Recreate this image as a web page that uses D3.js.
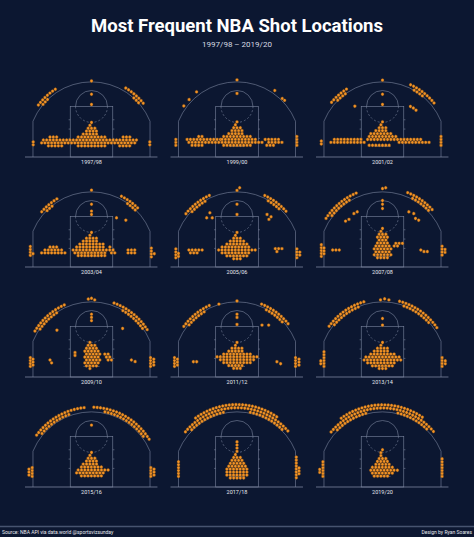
<!DOCTYPE html>
<html>
<head>
<meta charset="utf-8">
<script src="https://cdn.jsdelivr.net/npm/d3@7"></script>
<style>
  body { margin: 0; background: #0c1731; }
  svg { display: block; }
</style>
</head>
<body>
<div id="chart"></div>
<script>
// seasons, one court each (feet: x from centre, y from baseline)
var seasons = ["1997/98","1999/00","2001/02","2003/04","2005/06","2007/08",
               "2009/10","2011/12","2013/14","2015/16","2017/18","2019/20"];

// horizontal runs of bins: [y, x0, x1]
var runs = [
  [[13,0,0],[11.9,-0.6,0.6],[10.8,-1.25,1.25],[9.7,-1.9,1.9],[8.6,-3.1,3.1],[7.5,-5,5],[7.5,-15.6,-12.5],[7.5,11.9,15],
   [6.4,-18.1,16.9],[5.3,-18.75,16.25],[4.2,-16.2,-11.2],[4.2,-5,5],[4.2,10.6,14.4]],
  [[13.2,0,0],[12.1,-0.6,0.6],[11,-1.25,1.25],[9.9,-1.9,1.9],[8.8,-3.1,3.1],[7.7,-5,5],[7.7,-14.4,-13.1],[6.6,-18.75,-6.25],
   [6.6,-5.6,8.1],[6.6,10.6,15.6],[5.5,-18.1,9.4],[5.5,11.9,16.9],[4.4,-16.9,-13.1],[4.4,-5,5],[4.4,11.2,13.7]],
  [[13.2,0,0],[12.1,-0.6,0.6],[11,-1.25,1.25],[9.9,-2.5,1.9],[8.8,-4.4,3.8],[7.7,-5,5.6],[6.6,-5.6,6.9],[6.6,-18.1,-8.1],
   [5.5,-19.4,-6.9],[5.5,6.25,18.1],[6.6,8.1,14.4],[4.4,-5,3.1]],
  [[13,0,0],[11.9,-0.6,0.6],[10.8,-1.9,1.9],[9.7,-3.1,3.1],[8.6,-4.4,4.4],[7.5,-5.6,5.6],[7.5,6.9,8.1],[6.4,-6.9,8.8],
   [5.3,-6.25,5.6],[5.3,7.5,8.8],[4.3,-5,5],[6.4,-17.5,-10.6],[7.5,-15.6,-13.1],[5.3,-18.75,-9.4],[6.4,13.75,16.9],[5.3,13.75,16.9]],
  [[13,0,0],[11.9,-0.6,0.6],[10.8,-1.25,1.25],[9.7,-2.5,2.5],[8.6,-3.8,3.8],[7.5,-5.6,5.6],[6.4,-6.9,6.9],[5.3,-5.6,5.6],
   [4.2,-3.8,3.8],[3.1,-1.25,1.25],[6.4,-18.1,-13.1],[5.3,-17.5,-14.4],[6.9,14.4,16.9],[5.8,15,16.2]],
  [[14.5,0,0],[13.4,-0.6,0.6],[12.3,-1.25,1.25],[11.2,-1.9,1.9],[10.1,-1.25,1.9],[9,-1.9,2.5],[7.9,-2.5,3.1],[6.8,-3.1,3.8],
   [5.7,-2.5,3.1],[4.6,-3.1,3.8],[3.5,-1.9,1.9],[8.9,5,7.5],[7.9,4.4,6.25],[6.4,-18.75,-15.6],[6.4,14.4,14.4],[5.8,15.6,16.9]],
  [[13,-0.6,0.6],[11.9,-1.25,1.25],[10.8,-1.9,1.9],[9.7,-2.5,2.5],[8.6,-1.9,3.1],[7.5,-2.5,2.5],[6.4,-1.9,3.1],[5.3,-2.5,2.5],
   [4.2,-1.9,1.9],[3.2,-0.6,0.6],[9.2,-6.2,-6.2],[8.1,-6.2,-6.2],[8.6,5,6.25],[7.5,5.6,6.9],[6.4,6.25,7.5],
   [6.4,-15.6,-15.6],[5.3,-15,-15],[6.4,15,15],[5.8,16.4,16.4]],
  [[13,0,0],[11.9,-0.6,0.6],[10.8,-1.9,1.9],[9.7,-3.1,3.1],[8.6,-5,5],[7.6,-7.5,7.5],[6.5,-6.25,6.25],[5.4,-5,5],
   [4.3,-3.1,3.1],[3.25,-1.25,1.25],[5.75,-16.4,-15],[5.75,15,15],[5,16.4,16.4]],
  [[13,0,0],[11.9,-0.6,0.6],[10.8,-1.9,1.9],[9.7,-3.1,3.1],[8.6,-4.4,4.4],[7.5,-6.25,6.25],[6.4,-6.9,7.5],[5.3,-5.6,5.6],
   [4.2,-3.8,3.8],[3.2,-1.25,1.25]],
  [[13,0,0],[11.9,-0.6,0.6],[10.8,-1.25,1.25],[9.7,-1.9,1.9],[8.6,-3.1,3.1],[7.5,-3.8,3.8],[6.4,-5,6.25],[5.3,-5.6,5.6],
   [4.2,-3.8,3.8]],
  [[17,0,0],[15.8,0,0],[14.6,0,0],[13.4,0,0],[12.2,-0.6,0.6],[11.1,-1.25,1.25],[10,-1.9,1.9],[8.9,-2.5,2.5],[7.8,-3.1,3.8],
   [6.7,-3.8,4.4],[5.6,-3.8,3.8],[4.5,-3.8,3.8],[3.4,-2.5,2.5]],
  [[14,0,0],[12.9,-0.6,0.6],[11.8,-0.6,0.6],[10.7,-1.25,1.25],[9.6,-1.9,1.9],[8.5,-2.5,3.1],[7.4,-3.8,4.4],[6.3,-4.4,5.6],
   [5.2,-3.8,3.8],[4.1,-3.1,3.1]]
];

// vertical runs (corners): [x, y0, y1]
var cols = [
  [[-21.9,4.6,5.9],[21.9,4.6,5.9]],
  [[-23,4.4,6.6],[22.5,4.4,7.7]],
  [[-23,4.9,6.5],[22,4.4,7.7]],
  [[-23,4.4,7.7],[-22,5,6],[22.5,3.8,7.7],[23.6,5,6]],
  [[-23,3.5,7],[-22,4,6],[22.5,3.5,7],[23.6,4.5,6]],
  [[-23,4,8.5],[-22,5,7.5],[22.4,4.5,8],[23.5,5.5,7]],
  [[-23,4,8],[-22,4.5,7.5],[22.2,4,8],[23.4,4.5,7.5]],
  [[-23.5,4,7.5],[-22.4,4.5,7],[22,4,7.5],[23.3,4.5,7]],
  [[-22,4,10],[-23.2,5,7],[22.4,4,8],[23.6,5,7]],
  [[-23.5,4.5,7.5],[-22.3,4,8],[22.3,4,8],[23.5,4.5,7.5]],
  [[-22,4,10.5],[22.3,3.5,12],[23.3,5,8]],
  [[-22.4,4,10],[-23.6,5.5,7.5],[22.4,4,11]]
];

// arcs around the hoop: [radius, angle0, angle1] (degrees from straight up)
var arcs = [
  [[25,-53,-31],[23.8,-50,-42],[25,31,53],[23.8,42,50]],
  [],
  [[25,-50,-31],[23.8,-45,-35],[25,25,53],[23.8,30,42]],
  [[24.8,-49,-31],[23.6,-45,-38],[24.8,27,47],[23.6,35,45]],
  [[24.7,-51,-24],[23.5,-46,-30],[24.7,25,49],[23.5,30,45]],
  [[25.3,-57,-22],[24.1,-52,-30],[25.3,22,50],[24.1,28,46]],
  [[24.8,-59,-22],[23.6,-55,-32],[24.8,20,60],[23.6,30,55]],
  [[24.7,-54,-24],[23.5,-50,-30],[24.7,22,51],[23.5,28,47]],
  [[24.8,-54,-14],[23.6,-50,-20],[24.8,15,57],[23.6,20,50]],
  [[25.5,-54,-4],[25.5,2,60],[24.3,-50,-20],[24.3,12,55]],
  [[26.5,-36,36],[25.3,-50,51],[24.1,-45,-12],[24.1,12,45]],
  [[26.4,-36,36],[25.2,-50,50],[24,-45,-14],[24,14,45]]
];

// single bins: [x, y]
var pts = [
  [[0,28.6],[0,23.6],[0,19.75]],
  [[0,29],[0,23.9],[-20,19.2],[-18,21.6],[-15.2,24.5],[14.2,25],[17,22],[17.9,21.3]],
  [[0,28.9],[0,23.6],[0,19.75],[-10.4,19.1],[10.5,19],[11.6,18.4],[12.6,17.6]],
  [[0,28.9],[0,23.6],[0,21],[0,19.75],[9.4,18.5],[12.9,17.6]],
  [[1,29.8],[0,28.8],[0,23.6],[0,19.75],[-10.2,20.4],[-11.4,18.5],[-9.3,18.5],[11.3,19.75],[12.8,18.9],[12,17.9]],
  [[0,29.5],[1.2,29.8],[0,25],[0,23.6],[0,22],[-10.75,20.1],[-9.5,20.75],[-13.9,17.25],[-12.6,17.9],
   [9.9,20.75],[11.75,20.1],[12.4,18.25],[13.6,17.6]],
  [[-1.2,29.3],[0,29.6],[1.2,29],[0,23.6],[0,22.4],[0,21.2],[-13,17.6],[11.7,18.25]],
  [[0,28.6],[0,23.6],[0,22.4],[0,19.75],[-6.8,27.4],[9.4,19.5],[11.9,19.5]],
  [[-0.75,29],[0.8,29.4],[2.4,29],[0,22],[0,19.5]],
  [[0,23.25]],
  [],
  []
];

var W = 474, H = 537, hoopY = 4.5, step = 1.25;

var svg = d3.select("#chart").append("svg")
    .attr("width", W).attr("height", H);
svg.append("rect").attr("width", W).attr("height", H).attr("fill", "#0c1731");

svg.append("text").attr("x", W/2).attr("y", 32).attr("text-anchor", "middle")
  .attr("fill", "#fff").attr("font-family", "Roboto").attr("font-weight", "bold")
  .attr("font-size", 18.5).text("Most Frequent NBA Shot Locations");
svg.append("text").attr("x", W/2).attr("y", 47).attr("text-anchor", "middle")
  .attr("fill", "#d8dbe3").attr("font-family", "Roboto").attr("font-size", 8)
  .text("1997/98 \u2013 2019/20");

function bins(i) {
  var out = [];
  runs[i].forEach(function(r) {
    for (var x = r[1]; x <= r[2] + 0.01; x += step) out.push([x, r[0]]);
  });
  cols[i].forEach(function(c) {
    for (var y = c[1]; y <= c[2] + 0.01; y += 1.1) out.push([c[0], y]);
  });
  arcs[i].forEach(function(a) {
    var da = step / a[0] * 180 / Math.PI;
    for (var t = a[1]; t <= a[2] + 0.01; t += da) {
      var rad = t * Math.PI / 180;
      out.push([a[0] * Math.sin(rad), hoopY + a[0] * Math.cos(rad)]);
    }
  });
  return out.concat(pts[i]);
}

function hexPath(r) {
  return d3.range(6).map(function(k) {
    var a = Math.PI / 6 + k * Math.PI / 3;
    return (k ? "L" : "M") + (r * Math.cos(a)).toFixed(2) + "," + (r * Math.sin(a)).toFixed(2);
  }).join("") + "Z";
}

var lineCol = "#7c86a0";

seasons.forEach(function(s, i) {
  var col = i % 3, row = Math.floor(i / 3);
  var cx = 91.5 + col * 145.5, by = 157 + row * 110;
  var x = d3.scaleLinear().domain([-25, 25]).range([cx - 66.5, cx + 66.5]);
  var y = d3.scaleLinear().domain([0, 47]).range([by, by - 125]);
  var k = x(1) - x(0);
  var g = svg.append("g").attr("fill", "none").attr("stroke", lineCol).attr("stroke-width", 0.6);

  g.append("line").attr("x1", x(-25)).attr("x2", x(24.8)).attr("y1", y(0)).attr("y2", y(0))
    .attr("stroke-width", 0.8);
  var ang = Math.asin(22 / 23.75);
  var yc = hoopY + 23.75 * Math.cos(ang);
  g.append("path").attr("d",
    "M" + x(-22) + "," + y(0) + "L" + x(-22) + "," + y(yc) +
    "A" + 23.75 * k + "," + 23.75 * k + " 0 0 1 " + x(22) + "," + y(yc) +
    "L" + x(22) + "," + y(0));
  g.append("rect").attr("x", x(-8)).attr("y", y(19)).attr("width", 16 * k).attr("height", 19 * k);
  g.append("path").attr("d", "M" + x(-6) + "," + y(19) + "A" + 6*k + "," + 6*k + " 0 0 1 " + x(6) + "," + y(19));
  g.append("path").attr("d", "M" + x(-6) + "," + y(19) + "A" + 6*k + "," + 6*k + " 0 0 0 " + x(6) + "," + y(19))
    .attr("stroke-dasharray", "2,2");
  g.append("line").attr("x1", x(-3)).attr("x2", x(3)).attr("y1", y(4)).attr("y2", y(4));
  [7, 10.5, 14].forEach(function(h) {
    g.append("line").attr("x1", x(-8.6)).attr("x2", x(-8)).attr("y1", y(h)).attr("y2", y(h));
    g.append("line").attr("x1", x(8)).attr("x2", x(8.6)).attr("y1", y(h)).attr("y2", y(h));
  });

  svg.append("g").selectAll("path").data(bins(i)).enter().append("path")
    .attr("d", hexPath(1.7))
    .attr("transform", function(d) { return "translate(" + x(d[0]) + "," + y(d[1]) + ")"; })
    .attr("fill", "#f39325").attr("stroke", "#5a3a1a").attr("stroke-width", 0.35);

  svg.append("text").attr("x", cx).attr("y", by + 6.5).attr("text-anchor", "middle")
    .attr("fill", "#e6e8ee").attr("font-family", "Roboto").attr("font-size", 5.5).text(s);
});

svg.append("line").attr("x1", 0).attr("x2", W).attr("y1", 526.5).attr("y2", 526.5)
  .attr("stroke", "#46536f").attr("stroke-width", 1.5);
svg.append("text").attr("x", 2).attr("y", 534).attr("fill", "#e6e8ee")
  .attr("font-family", "Roboto").attr("font-size", 5).text("Source: NBA API via data.world @sportsvizsunday");
svg.append("text").attr("x", 472).attr("y", 534).attr("text-anchor", "end").attr("fill", "#e6e8ee")
  .attr("font-family", "Roboto").attr("font-size", 5).text("Design by Ryan Soares");
</script>
</body>
</html>
